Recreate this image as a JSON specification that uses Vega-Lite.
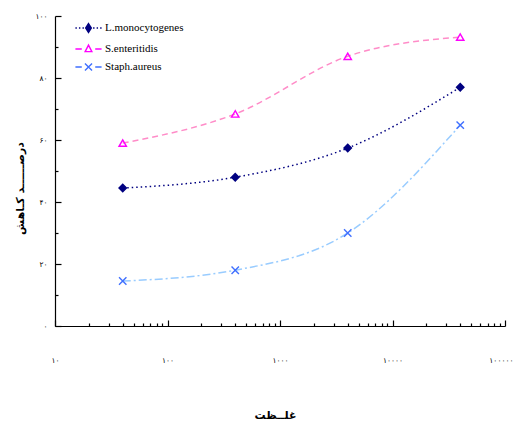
{
  "$schema": "https://vega.github.io/schema/vega-lite/v6.json",
  "autosize": "none",
  "padding": {"left": 55, "top": 16, "right": 9, "bottom": 97},
  "width": 450,
  "height": 310,
  "config": {
    "view": {"stroke": null},
    "font": "Liberation Serif",
    "axis": {"grid": false, "domainColor": "black", "tickColor": "black", "domainWidth": 1.2, "tickWidth": 1.2, "labelColor": "black", "titleColor": "black"},
    "legend": {"labelFont": "Liberation Serif", "labelFontSize": 11, "labelColor": "black", "rowPadding": 6, "symbolSize": 50, "labelOffset": 11, "symbolStrokeWidth": 1.4, "symbolOpacity": 1}
  },
  "data": {
    "values": [
      {"series": "L.monocytogenes", "conc": 40, "pct": 44.5},
      {"series": "L.monocytogenes", "conc": 400, "pct": 48},
      {"series": "L.monocytogenes", "conc": 4000, "pct": 57.4},
      {"series": "L.monocytogenes", "conc": 40000, "pct": 77},
      {"series": "S.enteritidis", "conc": 40, "pct": 59},
      {"series": "S.enteritidis", "conc": 400, "pct": 68.4},
      {"series": "S.enteritidis", "conc": 4000, "pct": 87},
      {"series": "S.enteritidis", "conc": 40000, "pct": 93.2},
      {"series": "Staph.aureus", "conc": 40, "pct": 14.5},
      {"series": "Staph.aureus", "conc": 400, "pct": 18},
      {"series": "Staph.aureus", "conc": 4000, "pct": 30},
      {"series": "Staph.aureus", "conc": 40000, "pct": 64.8}
    ]
  },
  "encoding": {
    "x": {
      "field": "conc", "type": "quantitative",
      "scale": {"type": "log", "domain": [10, 100000], "nice": false},
      "axis": {
        "values": [10,20,30,40,50,60,70,80,90,100,200,300,400,500,600,700,800,900,1000,2000,3000,4000,5000,6000,7000,8000,9000,10000,20000,30000,40000,50000,60000,70000,80000,90000,100000],
        "tickSize": {"condition": {"test": "abs(log(datum.value)/LN10 - round(log(datum.value)/LN10)) < 0.000001", "value": -6}, "value": -3},
        "labelExpr": "abs(log(datum.value)/LN10 - round(log(datum.value)/LN10)) < 0.000001 ? replace(replace(format(datum.value, 'd'), regexp('0', 'g'), '۰'), regexp('1', 'g'), '۱') : ''",
        "labelPadding": 36,
        "labelFont": "DejaVu Sans",
        "labelFontSize": 7.5,
        "labelAlign": {"condition": {"test": "datum.value >= 99999", "value": "right"}, "value": "center"},
        "labelOffset": {"condition": {"test": "datum.value >= 99999", "value": 8}, "value": 0},
        "labelFlush": false,
        "labelOverlap": false,
        "title": "غلــظت",
        "titleFont": "DejaVu Sans",
        "titleFontSize": 11,
        "titleFontWeight": "bold",
        "titleX": 220,
        "titleY": 89,
        "titleBaseline": "middle"
      }
    },
    "y": {
      "field": "pct", "type": "quantitative",
      "scale": {"domain": [0, 100], "nice": false},
      "axis": {
        "values": [0,10,20,30,40,50,60,70,80,90,100],
        "tickSize": {"condition": {"test": "datum.value % 20 == 0", "value": -6}, "value": -3},
        "labelExpr": "datum.value % 20 == 0 ? replace(replace(replace(replace(replace(replace(format(datum.value, 'd'), regexp('0', 'g'), '۰'), regexp('1', 'g'), '۱'), regexp('2', 'g'), '۲'), regexp('4', 'g'), '۴'), regexp('6', 'g'), '۶'), regexp('8', 'g'), '۸') : ''",
        "labelPadding": 14,
        "labelFont": "DejaVu Sans",
        "labelFontSize": 7.5,
        "labelFlush": false,
        "labelOverlap": false,
        "title": "درصــــــد کـاهش",
        "titleFont": "DejaVu Sans",
        "titleFontSize": 11,
        "titleFontWeight": "bold",
        "titleX": -35,
        "titleY": 172,
        "titleBaseline": "middle"
      }
    }
  },
  "resolve": {"scale": {"color": "independent", "fill": "independent", "shape": "independent"}},
  "layer": [
    {
      "mark": {"type": "line", "interpolate": "monotone", "strokeWidth": 1.5},
      "encoding": {
        "stroke": {"field": "series", "type": "nominal", "legend": null,
          "scale": {"range": ["#000080", "#FF8CC8", "#99CCFF"]}},
        "strokeDash": {"field": "series", "type": "nominal", "legend": null,
          "scale": {"range": [[1.5, 3], [6, 4], [8, 3, 2, 3]]}}
      }
    },
    {
      "mark": {"type": "point", "filled": false, "size": 55, "strokeWidth": 1.4, "opacity": 1},
      "encoding": {
        "color": {"field": "series", "type": "nominal", "legend": null,
          "scale": {"range": ["#000080", "#FF00FF", "#3F6FFF"]}},
        "shape": {"field": "series", "type": "nominal", "legend": null,
          "scale": {"range": ["diamond", "triangle-up", "M-1,-1L1,1M-1,1L1,-1"]}},
        "fill": {"field": "series", "type": "nominal", "legend": null,
          "scale": {"range": ["#000080", "transparent", "transparent"]}}
      }
    },
    {
      "mark": {"type": "point", "filled": false, "size": 50, "strokeWidth": 1.4, "opacity": 0},
      "encoding": {
        "color": {"field": "series", "type": "nominal",
          "scale": {"domain": ["L.monocytogenes", "S.enteritidis", "Staph.aureus"], "range": ["#000080", "#FF00FF", "#3F6FFF"]},
          "legend": {"orient": "none", "legendX": 28, "legendY": 6.5, "title": null, "symbolOpacity": 1}},
        "shape": {"field": "series", "type": "nominal",
          "scale": {"domain": ["L.monocytogenes", "S.enteritidis", "Staph.aureus"], "range": [
            "M0,-1.25L0.8,0L0,1.25L-0.8,0ZM-3.7,0L-3.3,0M-2.7,0L-2.3,0M-1.7,0L-1.3,0M1.3,0L1.7,0M2.3,0L2.7,0M3.3,0L3.7,0",
            "M0,-1.1L0.95,0.75L-0.95,0.75ZM-3.7,0L-1.9,0M1.9,0L3.7,0",
            "M-1,-1L1,1M-1,1L1,-1M-3.7,0L-1.9,0M1.9,0L3.7,0"]},
          "legend": {"orient": "none", "legendX": 28, "legendY": 6.5, "title": null, "symbolOpacity": 1}},
        "fill": {"field": "series", "type": "nominal",
          "scale": {"domain": ["L.monocytogenes", "S.enteritidis", "Staph.aureus"], "range": ["#000080", "transparent", "transparent"]},
          "legend": {"orient": "none", "legendX": 28, "legendY": 6.5, "title": null, "symbolOpacity": 1}}
      }
    }
  ]
}
